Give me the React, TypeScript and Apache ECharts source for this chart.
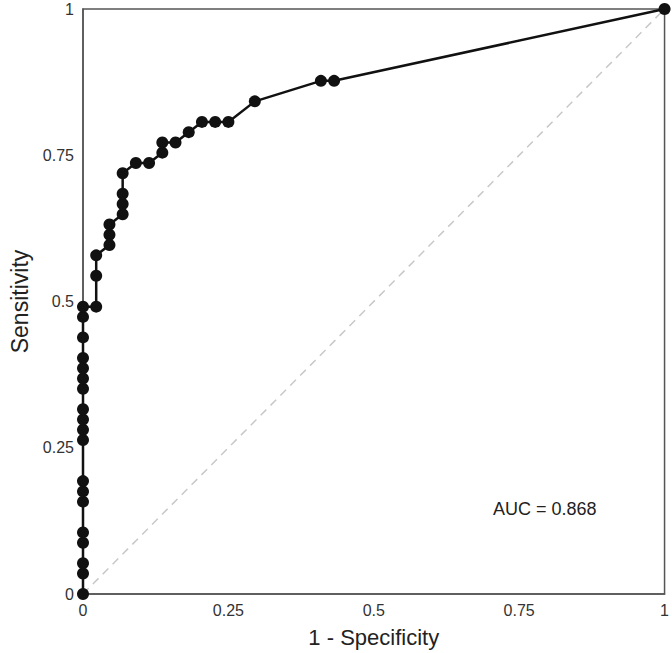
import React, { useEffect, useRef } from "react";
import * as echarts from "echarts";

// ROC curve points: 1 - Specificity (x) and Sensitivity (y)
const fprValues: number[] = [
  0, 0, 0, 0, 0, 0, 0, 0, 0, 0, 0, 0, 0, 0, 0, 0, 0, 0, 0,
  0.0227, 0.0227, 0.0227,
  0.0455, 0.0455, 0.0455,
  0.0682, 0.0682, 0.0682, 0.0682,
  0.0909, 0.1136,
  0.1364, 0.1364,
  0.1591, 0.1818,
  0.2045, 0.2273, 0.25,
  0.2955, 0.4091, 0.4318,
  1,
];
const tprValues: number[] = [
  0, 0.0351, 0.0526, 0.0877, 0.1053, 0.1579, 0.1754, 0.193, 0.2632, 0.2807, 0.2982, 0.3158, 0.3509, 0.3684, 0.386, 0.4035, 0.4386, 0.4737, 0.4912,
  0.4912, 0.5439, 0.5789,
  0.5965, 0.614, 0.6316,
  0.6491, 0.6667, 0.6842, 0.7193,
  0.7368, 0.7368,
  0.7544, 0.7719,
  0.7719, 0.7895,
  0.807, 0.807, 0.807,
  0.8421, 0.8772, 0.8772,
  1,
];
const tickValues: number[] = [0, 0.25, 0.5, 0.75, 1];
const aucLabel = "AUC = 0.868";

export default function App() {
  const ref = useRef<HTMLDivElement>(null);
  useEffect(() => {
    if (!ref.current) return;
    const chart = echarts.init(ref.current, null, { renderer: "svg" });
    const font = "Liberation Sans, Arial, Helvetica, sans-serif";
    const rocData = fprValues.map((x, i) => [x, tprValues[i]]);
    const fmt = (v: number) => (tickValues.includes(v) ? String(v) : "");
    chart.setOption({
      animation: false,
      backgroundColor: "#ffffff",
      grid: {
        left: 79,
        right: 6,
        top: 9,
        bottom: 57,
        show: true,
        borderColor: "#555555",
        borderWidth: 1.5,
        backgroundColor: "transparent",
      },
      xAxis: {
        type: "value",
        min: 0,
        max: 1,
        interval: 0.25,
        name: "1 - Specificity",
        nameLocation: "middle",
        nameGap: 32,
        nameTextStyle: { fontFamily: font, fontSize: 22, color: "#222" },
        axisLine: { show: true, lineStyle: { color: "#555555", width: 1.5 } },
        axisTick: { show: false },
        splitLine: { show: false },
        axisLabel: { fontFamily: font, fontSize: 16, color: "#333", margin: 8, formatter: fmt },
      },
      yAxis: {
        type: "value",
        min: 0,
        max: 1,
        interval: 0.25,
        name: "Sensitivity",
        nameLocation: "middle",
        nameGap: 52,
        nameTextStyle: { fontFamily: font, fontSize: 23, color: "#222" },
        axisLine: { show: true, lineStyle: { color: "#555555", width: 1.5 } },
        axisTick: { show: false },
        splitLine: { show: false },
        axisLabel: { fontFamily: font, fontSize: 16, color: "#333", margin: 9, formatter: fmt },
      },
      series: [
        {
          type: "line",
          data: [
            [0, 0],
            [1, 1],
          ],
          showSymbol: false,
          symbol: "none",
          lineStyle: { color: "#c8c8c8", width: 1.5, type: [8, 6] },
          silent: true,
          z: 1,
        },
        {
          type: "line",
          data: rocData,
          symbol: "circle",
          symbolSize: 12,
          showSymbol: true,
          itemStyle: { color: "#111111" },
          lineStyle: { color: "#111111", width: 2.5 },
          clip: false,
          z: 3,
        },
      ],
      graphic: [
        {
          type: "text",
          left: 493,
          top: 500,
          style: { text: aucLabel, font: `18px ${font}`, fill: "#222" },
        },
      ],
    });
    return () => chart.dispose();
  }, []);
  return (
    <div
      ref={ref}
      style={{ position: "fixed", left: 0, top: 0, width: 672, height: 653 }}
    />
  );
}
